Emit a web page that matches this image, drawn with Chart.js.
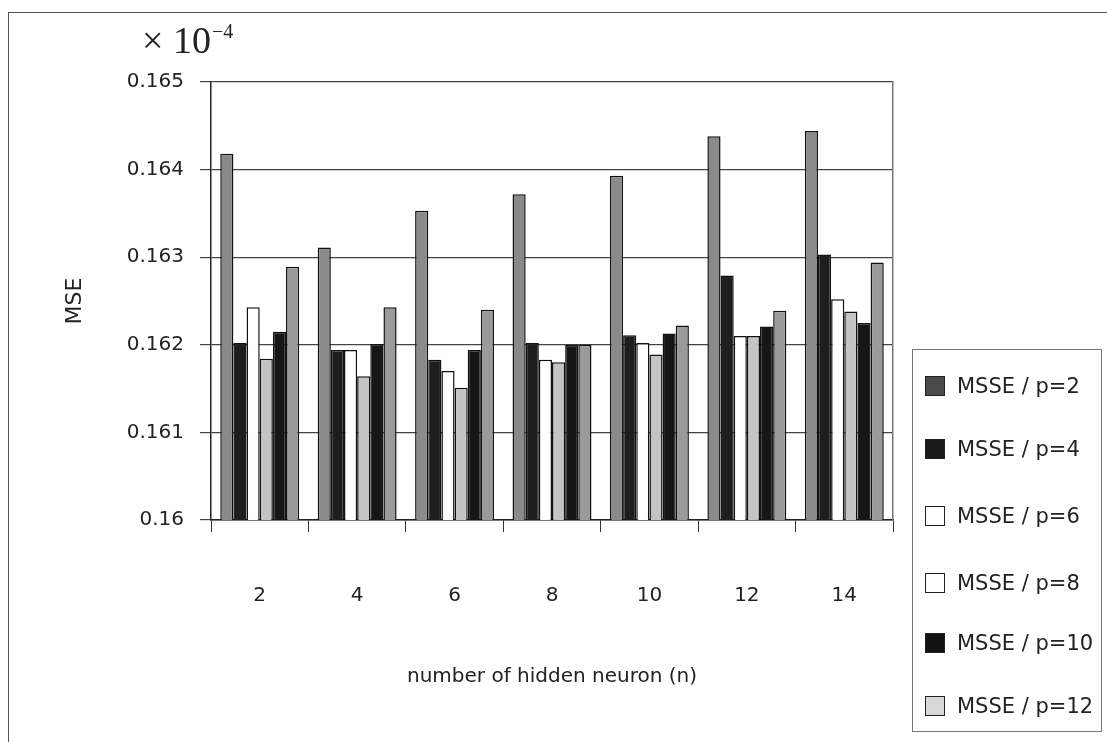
<!DOCTYPE html>
<html>
<head>
<meta charset="utf-8">
<script src="https://cdn.jsdelivr.net/npm/chart.js@4/dist/chart.umd.min.js"></script>
<style>
  html, body { margin: 0; padding: 0; background: #fff; }
  #wrap { position: relative; width: 1107px; height: 742px; overflow: hidden; }
  #msegraph { position: absolute; left: 0; top: 0; }
  #frame {
    position: absolute; left: 8px; top: 12px; width: 1200px; height: 800px;
    border-left: 1.5px solid #555; border-top: 1.5px solid #555;
  }
  #scale {
    position: absolute; left: 142px; top: 22px; line-height: 36px;
    font-family: "Liberation Serif", "DejaVu Serif", serif; font-size: 38px; color: #222;
    white-space: nowrap;
  }
  #scale sup { font-size: 20px; position: relative; top: -9px; vertical-align: top; margin-left: 1px; }
  #legendBox {
    position: absolute; left: 912px; top: 349px; width: 190px; height: 383px;
    border: 1px solid #777; box-sizing: border-box;
    font-family: "DejaVu Sans", sans-serif; font-size: 21px; color: #222;
  }
  .item { position: absolute; left: 12px; height: 24px; display: flex; align-items: center; white-space: nowrap; }
  .swatch { width: 20px; height: 20px; border: 1.5px solid #222; margin-right: 12px; box-sizing: border-box; }
</style>
</head>
<body>
<div id="wrap">
  <div id="frame"></div>
  <canvas id="msegraph" width="1107" height="742"></canvas>
  <div id="scale">× 10<sup>−4</sup></div>
  <div id="legendBox"></div>
</div>
<script>
// hidden neurons (n) on the x axis
const hiddenNeurons = ["2", "4", "6", "8", "10", "12", "14"];

// MSSE values (units of 1e-4)
const msseP2 = [0.16418, 0.16311, 0.16353, 0.16372, 0.16393, 0.16438, 0.16444];
const msseP4 = [0.16202, 0.16194, 0.16183, 0.16202, 0.16211, 0.16279, 0.16303];
const msseP6 = [0.16243, 0.16194, 0.1617, 0.16183, 0.16202, 0.1621, 0.16252];
const msseP8 = [0.16184, 0.16164, 0.16151, 0.1618, 0.16189, 0.1621, 0.16238];
const msseP10 = [0.16215, 0.16201, 0.16194, 0.162, 0.16213, 0.16221, 0.16225];
const msseP12 = [0.16289, 0.16243, 0.1624, 0.162, 0.16222, 0.16239, 0.16294];

const seriesLabels = ["MSSE / p=2", "MSSE / p=4", "MSSE / p=6", "MSSE / p=8", "MSSE / p=10", "MSSE / p=12"];
const seriesValues = [msseP2, msseP4, msseP6, msseP8, msseP10, msseP12];

// y axis ticks
const yMin = 0.16;
const yMax = 0.165;
const yStep = 0.001;

const barColors = ["#8a8a8a", "#1e1e1e", "#ffffff", "#c4c4c4", "#161616", "#9a9a9a"];
const legendColors = ["#4a4a4a", "#1a1a1a", "#ffffff", "#ffffff", "#111111", "#d8d8d8"];

const axisFont = { family: "'DejaVu Sans', sans-serif", size: 20 };

let chart;

const ctx = document.getElementById("msegraph").getContext("2d");
chart = new Chart(ctx, {
  type: "bar",
  data: {
    labels: hiddenNeurons,
    datasets: seriesValues.map((vals, i) => ({
      label: seriesLabels[i],
      data: vals,
      backgroundColor: barColors[i],
      borderColor: "#111",
      borderWidth: 1.5,
      borderSkipped: "bottom",
      barPercentage: 1.0,
      categoryPercentage: 0.81,
    })),
  },
  options: {
    responsive: false,
    animation: false,
    layout: { padding: { left: 0, top: 82, right: 214, bottom: 0 } },
    plugins: {
      legend: { display: false },
      tooltip: { enabled: false },
    },
    scales: {
      x: {
        afterFit: (scale) => { scale.height = 222; },
        grid: {
          offset: true,
          drawOnChartArea: false,
          color: "#333",
          tickLength: 12,
        },
        border: { display: true, color: "#222", width: 1.5 },
        ticks: { color: "#222", font: axisFont, padding: 52 },
        title: {
          display: true,
          text: "number of hidden neuron (n)",
          color: "#222",
          font: axisFont,
          padding: { top: 0, bottom: 53 },
        },
      },
      y: {
        min: yMin,
        max: yMax,
        afterFit: (scale) => { scale.width = 211; },
        grid: { color: "#444", lineWidth: 1.2, tickLength: 11 },
        border: { display: true, color: "#222", width: 1.5 },
        ticks: {
          stepSize: yStep,
          color: "#222",
          font: axisFont,
          padding: 16,
          callback: function (value) {
            return String(Number(value.toFixed(3)));
          },
        },
        title: {
          display: true,
          text: "MSE",
          color: "#222",
          font: { family: "'DejaVu Sans', sans-serif", size: 22 },
          padding: { top: 62, bottom: 0 },
        },
      },
      y2: {
        position: "right",
        min: yMin,
        max: yMax,
        afterFit: (scale) => { scale.width = 0; },
        grid: { display: false },
        ticks: { display: false },
        border: { display: true, color: "#777", width: 1.5 },
      },
    },
  },
});

// legend drawn as html next to the plot
function buildLegend() {
  const box = document.getElementById("legendBox");
  const rowY = [24, 87, 154, 221, 281, 344];
  chart.data.datasets.forEach((ds, i) => {
    const item = document.createElement("div");
    item.className = "item";
    item.style.top = rowY[i] + "px";
    const sw = document.createElement("span");
    sw.className = "swatch";
    sw.style.background = legendColors[i];
    const txt = document.createElement("span");
    txt.textContent = ds.label;
    item.appendChild(sw);
    item.appendChild(txt);
    box.appendChild(item);
  });
}

buildLegend();
</script>
</body>
</html>
